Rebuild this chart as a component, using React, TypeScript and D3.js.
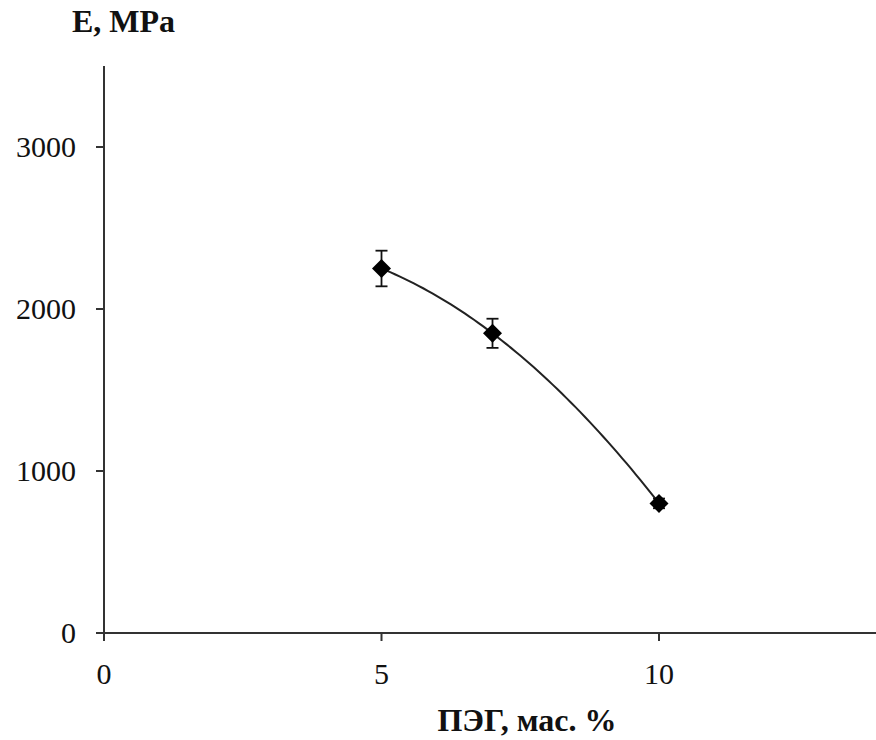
import React from "react";
import * as d3 from "d3";

const xValues = [5, 7, 10];
const eValues = [2250, 1850, 800];
const eErrors = [110, 90, 30];
const yTicks = [0, 1000, 2000, 3000];
const xTicks = [0, 5, 10];
const yTitle = "E, MPa";
const xTitle = "ПЭГ, мас. %";

// polynomial (order 2) trendline through the data, as in a spreadsheet chart
function trend(xv: number): number {
  let s = 0;
  for (let i = 0; i < xValues.length; i++) {
    let term = eValues[i];
    for (let j = 0; j < xValues.length; j++) {
      if (j !== i) term *= (xv - xValues[j]) / (xValues[i] - xValues[j]);
    }
    s += term;
  }
  return s;
}

export default function App() {
  const W = 876, H = 740;
  const x = d3.scaleLinear().domain([0, 14]).range([104, 881]);
  const y = d3.scaleLinear().domain([0, 3500]).range([633, 66]);
  const xMin = d3.min(xValues) as number, xMax = d3.max(xValues) as number;
  const samples = d3.range(0, 61).map((k) => xMin + ((xMax - xMin) * k) / 60);
  const line = d3.line<number>().x((v) => x(v)).y((v) => y(trend(v)))(samples) || "";
  const font = "'Liberation Serif', 'Times New Roman', serif";
  const axisColor = "#333";
  return (
    <svg width={W} height={H} style={{ position: "absolute", left: 0, top: 0, background: "#fff" }}>
      <rect width={W} height={H} fill="#fff" />
      <line x1={x(0)} x2={x(0)} y1={y(3500)} y2={y(0) + 8} stroke={axisColor} strokeWidth={2} />
      <line x1={x(0) - 8} x2={x(14)} y1={y(0)} y2={y(0)} stroke={axisColor} strokeWidth={2} />
      {yTicks.map((t) => (
        <g key={"y" + t}>
          <line x1={x(0) - 8} x2={x(0)} y1={y(t)} y2={y(t)} stroke={axisColor} strokeWidth={2} />
          <text x={76} y={y(t) + 10} textAnchor="end" fontFamily={font} fontSize={30} fill="#111">{t}</text>
        </g>
      ))}
      {xTicks.map((t) => (
        <g key={"x" + t}>
          <line x1={x(t)} x2={x(t)} y1={y(0)} y2={y(0) + 8} stroke={axisColor} strokeWidth={2} />
          <text x={x(t)} y={684} textAnchor="middle" fontFamily={font} fontSize={30} fill="#111">{t}</text>
        </g>
      ))}
      <text x={72} y={32} fontFamily={font} fontSize={32} fontWeight="bold" fill="#111">{yTitle}</text>
      <text x={527} y={731} textAnchor="middle" fontFamily={font} fontSize={32} fontWeight="bold" fill="#111">{xTitle}</text>
      <path d={line} fill="none" stroke="#222" strokeWidth={2} />
      {xValues.map((v, i) => {
        const cx = x(v), cy = y(eValues[i]);
        const top = y(eValues[i] + eErrors[i]), bot = y(eValues[i] - eErrors[i]);
        const r = 9.5;
        return (
          <g key={"p" + i}>
            <line x1={cx} x2={cx} y1={top} y2={bot} stroke="#111" strokeWidth={1.8} />
            <line x1={cx - 6} x2={cx + 6} y1={top} y2={top} stroke="#111" strokeWidth={1.8} />
            <line x1={cx - 6} x2={cx + 6} y1={bot} y2={bot} stroke="#111" strokeWidth={1.8} />
            <path d={`M${cx},${cy - r}L${cx + r},${cy}L${cx},${cy + r}L${cx - r},${cy}Z`} fill="#000" />
          </g>
        );
      })}
    </svg>
  );
}
